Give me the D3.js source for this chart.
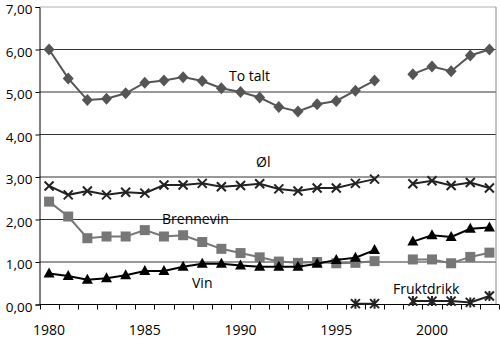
<!DOCTYPE html>
<html>
<head>
<meta charset="utf-8">
<script src="https://cdn.jsdelivr.net/npm/d3@7"></script>
<style>
  body { margin: 0; background: #fff; }
  text { font-family: "Open Sans", "DejaVu Sans", sans-serif; font-size: 14px; fill: #000; }
</style>
</head>
<body>
<div id="chart"></div>
<script>
var svgWidth = 500;
var svgHeight = 339;

// Data (1998 missing)
var years = d3.range(1980, 2004);
var totalt = [6.00, 5.32, 4.81, 4.84, 4.97, 5.22, 5.27, 5.35, 5.26, 5.09, 5.00, 4.87, 4.65, 4.54, 4.71, 4.79, 5.03, 5.27, null, 5.42, 5.60, 5.49, 5.86, 6.00];
var ol = [2.79, 2.58, 2.67, 2.58, 2.64, 2.62, 2.81, 2.81, 2.85, 2.77, 2.80, 2.84, 2.72, 2.67, 2.74, 2.74, 2.85, 2.95, null, 2.84, 2.91, 2.80, 2.87, 2.74];
var brennevin = [2.42, 2.07, 1.56, 1.60, 1.60, 1.75, 1.60, 1.63, 1.47, 1.31, 1.21, 1.11, 1.01, 0.98, 1.00, 0.97, 0.98, 1.02, null, 1.06, 1.06, 0.97, 1.12, 1.22];
var vin = [0.73, 0.67, 0.58, 0.62, 0.69, 0.79, 0.79, 0.89, 0.96, 0.96, 0.92, 0.89, 0.89, 0.89, 0.96, 1.05, 1.10, 1.28, null, 1.48, 1.63, 1.59, 1.78, 1.81];
var fruktdrikk = [null, null, null, null, null, null, null, null, null, null, null, null, null, null, null, null, 0.02, 0.02, null, 0.08, 0.08, 0.08, 0.05, 0.20];
var yTicks = [0, 1, 2, 3, 4, 5, 6, 7];
var xLabels = [1980, 1985, 1990, 1995, 2000];

var margin = { top: 7, left: 39.5 };
var plotRight = 499;
var plotBottom = 304.5;

var svg = d3.select("#chart")
    .append("svg")
    .attr("width", svgWidth)
    .attr("height", svgHeight);

var xScale = d3.scaleBand()
    .domain(years)
    .range([margin.left, plotRight]);
var half = xScale.bandwidth() / 2;

var yScale = d3.scaleLinear()
    .domain([0, 7])
    .range([plotBottom, margin.top]);

// gridlines
svg.append("g").selectAll("line")
    .data(yTicks.filter(d => d > 0))
    .enter()
    .append("line")
    .attr("x1", margin.left)
    .attr("x2", 496)
    .attr("y1", d => yScale(d))
    .attr("y2", d => yScale(d))
    .attr("stroke", d => d === 7 ? "#b0b0b0" : "#333")
    .attr("stroke-width", 1);

// right border
svg.append("line")
    .attr("x1", 496).attr("x2", 496)
    .attr("y1", yScale(7)).attr("y2", plotBottom)
    .attr("stroke", "#888");

// y axis
var leftAxis = d3.axisLeft(yScale)
    .tickValues(yTicks)
    .tickSize(4)
    .tickPadding(3)
    .tickFormat(d => d3.format(".2f")(d).replace(".", ","));
var yAxisG = svg.append("g")
    .attr("transform", `translate(${margin.left},0)`)
    .call(leftAxis);
yAxisG.select(".domain").attr("stroke", "#000");
yAxisG.selectAll("text")
    .style("font-size", "13.5px")
    .attr("dy", "6.5")
    .attr("fill", "#000");

// x axis: line + ticks on category boundaries
svg.append("line")
    .attr("x1", margin.left).attr("x2", plotRight)
    .attr("y1", plotBottom).attr("y2", plotBottom)
    .attr("stroke", "#000");
var bounds = years.map(d => xScale(d)).concat([plotRight]);
svg.append("g").selectAll("line")
    .data(bounds)
    .enter()
    .append("line")
    .attr("x1", d => Math.round(d) + 0.5)
    .attr("x2", d => Math.round(d) + 0.5)
    .attr("y1", plotBottom)
    .attr("y2", plotBottom + 5)
    .attr("stroke", "#000");
svg.append("g").selectAll("text")
    .data(xLabels)
    .enter()
    .append("text")
    .attr("x", d => xScale(d) + half)
    .attr("y", 335)
    .attr("text-anchor", "middle")
    .text(d => d);

// series
var line = d3.line()
    .defined(d => d.v !== null)
    .x(d => xScale(d.year) + half)
    .y(d => yScale(d.v));

function drawSeries(values, color, marker) {
    var pts = years.map((y, i) => ({ year: y, v: values[i] }));
    svg.append("path")
        .datum(pts)
        .attr("fill", "none")
        .attr("stroke", color)
        .attr("stroke-width", 2)
        .attr("d", line);
    var g = svg.append("g").selectAll("path")
        .data(pts.filter(d => d.v !== null))
        .enter()
        .append("path")
        .attr("transform", d => `translate(${xScale(d.year) + half},${yScale(d.v)})`);
    if (marker === "diamond") {
        g.attr("d", "M0,-6L5.5,0L0,6L-5.5,0Z").attr("fill", color);
    } else if (marker === "square") {
        g.attr("d", "M-5,-5H5V5H-5Z").attr("fill", color);
    } else if (marker === "triangle") {
        g.attr("d", "M0,-6L5.5,4L-5.5,4Z").attr("fill", color);
    } else if (marker === "x") {
        g.attr("d", "M-4.5,-4.5L4.5,4.5M4.5,-4.5L-4.5,4.5")
            .attr("fill", "none").attr("stroke", color).attr("stroke-width", 2);
    } else if (marker === "star") {
        g.attr("d", "M-4.5,-4.5L4.5,4.5M4.5,-4.5L-4.5,4.5M0,-5L0,5")
            .attr("fill", "none").attr("stroke", color).attr("stroke-width", 2);
    }
}

drawSeries(brennevin, "#777777", "square");
drawSeries(vin, "#000000", "triangle");
drawSeries(ol, "#222222", "x");
drawSeries(fruktdrikk, "#222222", "star");
drawSeries(totalt, "#555555", "diamond");

// series labels
var labels = [
    { text: "To talt", x: 229, y: 81 },
    { text: "Øl", x: 256, y: 167 },
    { text: "Brennevin", x: 162, y: 224 },
    { text: "Vin", x: 192, y: 288 },
    { text: "Fruktdrikk", x: 393, y: 294 }
];
svg.append("g").selectAll("text")
    .data(labels)
    .enter()
    .append("text")
    .attr("x", d => d.x)
    .attr("y", d => d.y)
    .text(d => d.text);
</script>
</body>
</html>
